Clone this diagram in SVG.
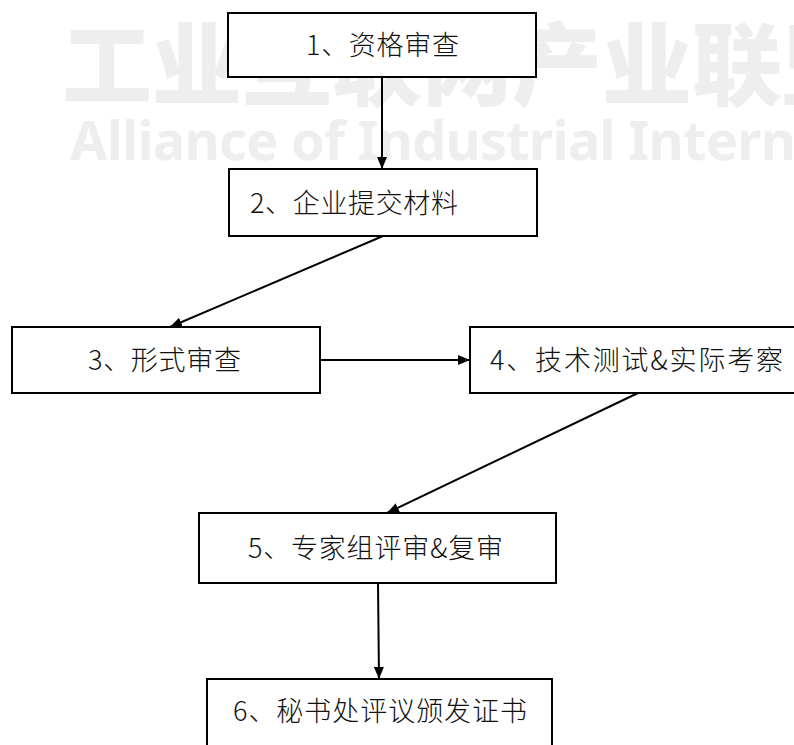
<svg xmlns="http://www.w3.org/2000/svg" width="794" height="745" viewBox="0 0 794 745">
<defs>
<style>
.wm{fill:#eeeeee}
.wmc{font-family:"Noto Sans CJK SC","Noto Sans",sans-serif;font-size:90px;font-weight:900}
.wme{font-family:"Noto Sans","Liberation Sans",sans-serif;font-size:54px;font-weight:bold}
.box{fill:#ffffff;stroke:#000000;stroke-width:2}
.lbl{font-family:"Noto Sans CJK SC","Noto Sans",sans-serif;font-size:27px;font-weight:300;fill:#111111}
.conn{stroke:#000000;stroke-width:2;fill:none;marker-end:url(#ah)}
</style>
<marker id="ah" viewBox="0 0 12 10" refX="12" refY="5" markerWidth="12" markerHeight="10" markerUnits="userSpaceOnUse" orient="auto">
<path d="M0,0 L12,5 L0,10 z" fill="#000000"/>
</marker>
</defs>
<rect width="794" height="745" fill="#ffffff"/>
<g id="watermark">
<text class="wm wmc" x="62" y="98" textLength="810">工业互联网产业联盟</text>
<text class="wm wme" x="70" y="160" textLength="780">Alliance of Industrial Internet</text>
</g>
<g id="connectors">
<line class="conn" x1="382" y1="77" x2="382" y2="169"/>
<line class="conn" x1="383" y1="236" x2="170" y2="327"/>
<line class="conn" x1="320" y1="360" x2="470" y2="360"/>
<line class="conn" x1="638" y1="393" x2="387" y2="513"/>
<line class="conn" x1="378" y1="583" x2="379" y2="679"/>
</g>
<g id="node1">
<rect class="box" x="228" y="13" width="308" height="64"/>
<text class="lbl" x="306" y="55" textLength="153">1、资格审查</text>
</g>
<g id="node2">
<rect class="box" x="229" y="169" width="308" height="67"/>
<text class="lbl" x="250" y="213" textLength="208">2、企业提交材料</text>
</g>
<g id="node3">
<rect class="box" x="12" y="327" width="308" height="66"/>
<text class="lbl" x="88" y="370" textLength="153">3、形式审查</text>
</g>
<g id="node4">
<rect class="box" x="470" y="327" width="340" height="66"/>
<text class="lbl" x="490" y="370" textLength="293">4、技术测试&amp;实际考察</text>
</g>
<g id="node5">
<rect class="box" x="199" y="513" width="357" height="70"/>
<text class="lbl" x="248" y="558" textLength="255">5、专家组评审&amp;复审</text>
</g>
<g id="node6">
<rect class="box" x="207" y="679" width="345" height="80"/>
<text class="lbl" x="233" y="721" textLength="294">6、秘书处评议颁发证书</text>
</g>
</svg>
